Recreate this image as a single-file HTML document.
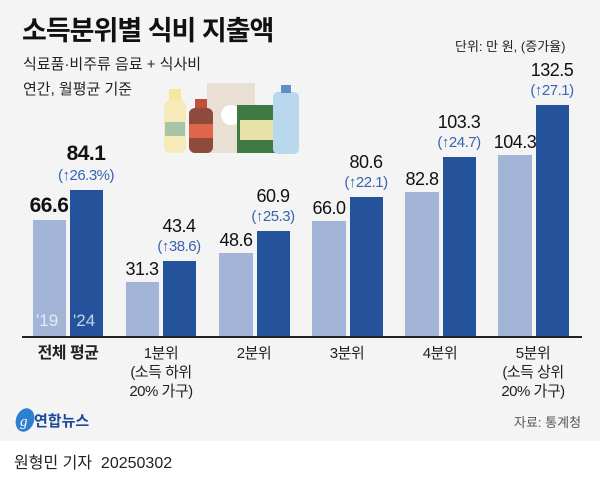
<!DOCTYPE html>
<html><head><meta charset="utf-8"><style>
body{margin:0}
#c{position:relative;width:600px;height:478px;background:#fff;overflow:hidden;font-family:"Liberation Sans","Noto Sans CJK KR",sans-serif}
#g{position:absolute;left:0;top:0;width:600px;height:441px;background:#f4f4f4}
.a{position:absolute}
.l{position:absolute;background:#a3b5d7}
.d{position:absolute;background:#24539c}
.v{position:absolute;width:60px;text-align:center;font-size:18px;color:#111;letter-spacing:-0.5px}
.p{position:absolute;width:80px;text-align:center;font-size:15px;color:#3a63b0;letter-spacing:-0.5px}
.x{position:absolute;width:90px;text-align:center;font-size:15px;color:#222;line-height:19px;letter-spacing:-0.5px}
</style></head><body><div id="c"><div id="g"></div>
<div class="a" style="left:22px;top:9px;font-size:27px;font-weight:bold;color:#111;letter-spacing:-1px">소득분위별 식비 지출액</div>
<div class="a" style="left:23px;top:53px;font-size:15px;color:#222">식료품·비주류 음료 + 식사비</div>
<div class="a" style="left:23px;top:78px;font-size:15px;color:#222">연간, 월평균 기준</div>
<div class="a" style="left:455px;top:36px;font-size:13px;color:#222">단위: 만 원, (증가율)</div>
<svg class="a" style="left:155px;top:80px" width="145" height="75">
<rect x="52" y="3" width="48" height="70" fill="#e9dfd2"/><circle cx="76" cy="35" r="10" fill="#fff"/>
<rect x="82" y="25" width="40" height="48" fill="#3f7a45"/><rect x="85" y="40" width="34" height="20" fill="#e8e1a8"/>
<rect x="118" y="12" width="26" height="62" rx="5" fill="#b9d8ee"/><rect x="126" y="5" width="10" height="8" fill="#5f8fc4"/>
<rect x="9" y="20" width="22" height="53" rx="6" fill="#f5eab8"/><rect x="14" y="9" width="12" height="11" fill="#f5e6a0"/><rect x="10" y="42" width="20" height="14" fill="#a8c4a6"/>
<rect x="34" y="28" width="24" height="45" rx="6" fill="#8e4a3a"/><rect x="40" y="19" width="12" height="9" fill="#c0503a"/><rect x="34" y="44" width="24" height="14" fill="#e0664a"/>
</svg>
<div class="a" style="left:22px;top:336px;width:560px;height:2px;background:#222"></div>
<div class="l" style="left:33px;top:220px;width:33px;height:116px"></div><div class="d" style="left:70px;top:190px;width:33px;height:146px"></div>
<div class="a" style="left:36px;top:311px;font-size:17px;color:#e4eaf5">'19</div><div class="a" style="left:73px;top:311px;font-size:17px;color:#c7d3ea">'24</div>
<div class="l" style="left:126px;top:282px;width:33px;height:54px"></div><div class="d" style="left:163px;top:261px;width:33px;height:75px"></div>
<div class="l" style="left:219px;top:253px;width:34px;height:83px"></div><div class="d" style="left:257px;top:231px;width:33px;height:105px"></div>
<div class="l" style="left:312px;top:221px;width:34px;height:115px"></div><div class="d" style="left:350px;top:197px;width:33px;height:139px"></div>
<div class="l" style="left:405px;top:192px;width:34px;height:144px"></div><div class="d" style="left:443px;top:157px;width:33px;height:179px"></div>
<div class="l" style="left:498px;top:155px;width:34px;height:181px"></div><div class="d" style="left:536px;top:105px;width:33px;height:231px"></div>
<div class="v" style="left:19px;top:194px;font-size:21px;font-weight:bold">66.6</div>
<div class="v" style="left:56px;top:142px;font-size:21px;font-weight:bold">84.1</div>
<div class="p" style="left:46px;top:167px">(↑26.3%)</div>
<div class="v" style="left:112px;top:259px">31.3</div><div class="v" style="left:149px;top:216px">43.4</div><div class="p" style="left:139px;top:238px">(↑38.6)</div>
<div class="v" style="left:206px;top:230px">48.6</div><div class="v" style="left:243px;top:186px">60.9</div><div class="p" style="left:233px;top:208px">(↑25.3)</div>
<div class="v" style="left:299px;top:198px">66.0</div><div class="v" style="left:336px;top:152px">80.6</div><div class="p" style="left:326px;top:174px">(↑22.1)</div>
<div class="v" style="left:392px;top:169px">82.8</div><div class="v" style="left:429px;top:112px">103.3</div><div class="p" style="left:419px;top:134px">(↑24.7)</div>
<div class="v" style="left:485px;top:132px">104.3</div><div class="v" style="left:522px;top:60px">132.5</div><div class="p" style="left:512px;top:82px">(↑27.1)</div>
<div class="x" style="left:23px;top:344px;font-weight:bold;font-size:16px">전체 평균</div>
<div class="x" style="left:116px;top:344px">1분위<br>(소득 하위<br>20% 가구)</div>
<div class="x" style="left:209px;top:344px">2분위</div>
<div class="x" style="left:302px;top:344px">3분위</div>
<div class="x" style="left:395px;top:344px">4분위</div>
<div class="x" style="left:488px;top:344px">5분위<br>(소득 상위<br>20% 가구)</div>
<svg class="a" style="left:14px;top:407px" width="22" height="26"><ellipse cx="11" cy="13" rx="9" ry="12" fill="#2d7fd0" transform="rotate(20 11 13)"/><text x="6" y="19" font-size="15" fill="#fff" font-style="italic" font-family="Liberation Serif">g</text></svg>
<div class="a" style="left:34px;top:410px;font-size:15px;font-weight:bold;color:#1a4a9c">연합뉴스</div>
<div class="a" style="left:514px;top:412px;font-size:13px;color:#555">자료: 통계청</div>
<div class="a" style="left:14px;top:449px;font-size:16px;color:#222">원형민 기자&nbsp; 20250302</div>
</div></body></html>
